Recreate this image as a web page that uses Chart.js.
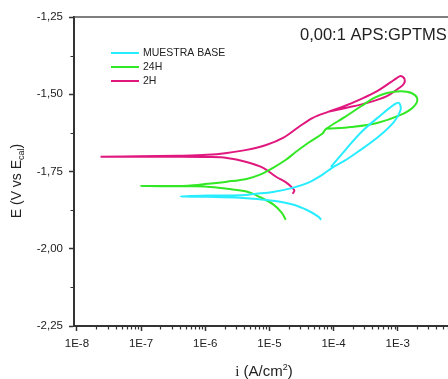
<!DOCTYPE html>
<html>
<head>
<meta charset="utf-8">
<script src="https://cdn.jsdelivr.net/npm/chart.js@4.4.1/dist/chart.umd.min.js"></script>
<style>
  html, body { margin: 0; padding: 0; background: #fff; overflow: hidden; }
  #wrap { width: 480px; height: 379px; }
</style>
</head>
<body>
<div id="wrap"><canvas id="tafel" width="480" height="379"></canvas></div>
<script>
// Polarization curves: i in A/cm2, E in V vs Ecal
const chartTitle = '0,00:1 APS:GPTMS';
const seriesLabels = ['MUESTRA BASE', '24H', '2H'];
const seriesColors = ['rgb(40, 236, 255)', 'rgb(50, 232, 36)', 'rgb(224, 24, 126)'];

const baseCurrent = [6.41e-5, 5.77e-5, 4.06e-5, 2.31e-5, 1.14e-5, 3.45e-6, 1.08e-6, 4.13e-7,
    1.08e-6, 3.45e-6, 6.28e-6, 1.14e-5, 2.31e-5, 4.06e-5, 6.65e-5, 9.47e-5, 1.49e-4, 2.36e-4,
    4.78e-4, 8.7e-4, 1.11e-3, 1.05e-3, 8.9e-4, 5.5e-4, 2.72e-4, 1.49e-4, 9.1e-5];
const basePotential = [-1.906, -1.896, -1.877, -1.857, -1.845, -1.835, -1.832, -1.831,
    -1.828, -1.827, -1.822, -1.816, -1.803, -1.786, -1.761, -1.738, -1.715, -1.687,
    -1.641, -1.590, -1.551, -1.528, -1.533, -1.567, -1.622, -1.683, -1.735];

const h24Current = [1.8e-5, 1.55e-5, 1.16e-5, 6.98e-6, 4.4e-6, 2.18e-6, 1.08e-6, 5.35e-7, 9.86e-8,
    5.35e-7, 1.08e-6, 2.18e-6, 4.4e-6, 6.98e-6, 1.14e-5, 1.81e-5, 2.57e-5, 4.06e-5, 6.65e-5, 7.66e-5,
    1.49e-4, 2.72e-4, 4.3e-4, 6.8e-4, 1.11e-3, 1.64e-3, 2.02e-3, 1.76e-3, 1.11e-3, 4.78e-4, 1.91e-4, 7.9e-5];
const h24Potential = [-1.906, -1.883, -1.857, -1.832, -1.815, -1.806, -1.799, -1.798, -1.797,
    -1.796, -1.790, -1.783, -1.774, -1.761, -1.738, -1.712, -1.687, -1.657, -1.628, -1.612,
    -1.574, -1.538, -1.512, -1.496, -1.490, -1.496, -1.515, -1.541, -1.567, -1.593, -1.606, -1.612];

const h2Current = [2.3e-5, 2.45e-5, 2.28e-5, 1.84e-5, 1.27e-5, 8.0e-6, 4.4e-6, 2.18e-6, 1.08e-6, 3.76e-7, 9.2e-8, 2.33e-8,
    9.2e-8, 3.76e-7, 1.08e-6, 2.18e-6, 4.4e-6, 8.9e-6, 1.63e-5, 2.86e-5, 4.68e-5, 8.2e-5, 1.49e-4, 2.72e-4,
    4.78e-4, 7.8e-4, 9.66e-4, 1.11e-3, 1.28e-3, 1.24e-3, 1.0e-3, 6.8e-4, 3.36e-4, 1.49e-4, 8.2e-5];
const h2Potential = [-1.822, -1.812, -1.803, -1.786, -1.767, -1.738, -1.719, -1.706, -1.703, -1.702, -1.702, -1.702,
    -1.701, -1.699, -1.696, -1.690, -1.680, -1.664, -1.641, -1.606, -1.577, -1.557, -1.538, -1.515,
    -1.490, -1.461, -1.448, -1.441, -1.451, -1.467, -1.483, -1.506, -1.528, -1.545, -1.557];

const xTicks = [1e-8, 1e-7, 1e-6, 1e-5, 1e-4, 1e-3, 1e-2];
const yTicks = [-2.25, -2.0, -1.75, -1.5, -1.25];
const yMinorTicks = [-2.125, -1.875, -1.625, -1.375];

const sans = '"Liberation Sans", Arial, sans-serif';
Chart.defaults.font.family = sans;

const toPoints = (cur, pot) => cur.map((c, k) => ({ x: c, y: pot[k] }));
const curves = [
    toPoints(baseCurrent, basePotential),
    toPoints(h24Current, h24Potential),
    toPoints(h2Current, h2Potential),
];

// little helper for text with a sub/superscript piece
const drawPieces = (ctx, pieces, cx, cy) => {
    let w = 0;
    pieces.forEach((p) => { ctx.font = p.font; w += ctx.measureText(p.text).width; });
    let px = cx - w / 2;
    pieces.forEach((p) => {
        ctx.font = p.font;
        ctx.fillText(p.text, px, cy + (p.dy || 0));
        px += ctx.measureText(p.text).width;
    });
};

const extras = {
    id: 'extras',
    afterDraw(chart) {
        const { ctx, chartArea: a, scales } = chart;
        const x = scales.x, y = scales.y;
        ctx.save();

        // top frame line
        ctx.strokeStyle = '#555';
        ctx.lineWidth = 1.5;
        ctx.beginPath();
        ctx.moveTo(a.left, a.top);
        ctx.lineTo(a.right + 1, a.top);
        ctx.stroke();

        // minor ticks
        ctx.strokeStyle = '#333';
        ctx.lineWidth = 1.2;
        ctx.beginPath();
        for (let d = -8; d <= -3; d++) {
            for (let m = 2; m <= 9; m++) {
                const px = Math.round(x.getPixelForValue(m * Math.pow(10, d))) + 0.5;
                ctx.moveTo(px, a.bottom);
                ctx.lineTo(px, a.bottom + 3.5);
            }
        }
        yMinorTicks.forEach((v) => {
            const py = Math.round(y.getPixelForValue(v)) + 0.5;
            ctx.moveTo(a.left - 3.5, py);
            ctx.lineTo(a.left, py);
        });
        ctx.stroke();

        // legend
        ctx.textBaseline = 'middle';
        ctx.textAlign = 'left';
        chart.data.datasets.forEach((ds, k) => {
            const ly = 53 + k * 14;
            ctx.strokeStyle = ds.borderColor;
            ctx.lineWidth = 2;
            ctx.beginPath();
            ctx.moveTo(111, ly);
            ctx.lineTo(139, ly);
            ctx.stroke();
            ctx.fillStyle = '#222';
            ctx.font = '10.5px ' + sans;
            ctx.fillText(ds.label, 143, ly + 0.5);
        });

        // title
        ctx.textBaseline = 'alphabetic';
        ctx.fillStyle = '#222';
        ctx.font = '16.5px ' + sans;
        ctx.fillText(chartTitle, 300, 40);

        // x axis title
        drawPieces(ctx, [
            { text: 'i', font: '15px "Liberation Serif", serif' },
            { text: ' (A/cm', font: '15px ' + sans },
            { text: '2', font: '9px ' + sans, dy: -6 },
            { text: ')', font: '15px ' + sans },
        ], 264, 376);

        // y axis title
        ctx.translate(21, 181);
        ctx.rotate(-Math.PI / 2);
        drawPieces(ctx, [
            { text: 'E (V vs E', font: '14px ' + sans },
            { text: 'cal', font: '9px ' + sans, dy: 3 },
            { text: ')', font: '14px ' + sans },
        ], 0, 0);

        ctx.restore();
    },
};

new Chart('tafel', {
    type: 'scatter',
    data: {
        datasets: curves.map((pts, k) => ({
            label: seriesLabels[k],
            data: pts,
            showLine: true,
            borderColor: seriesColors[k],
            backgroundColor: seriesColors[k],
            borderWidth: 2,
            pointRadius: 0,
            tension: 0.35,
        })),
    },
    options: {
        responsive: false,
        animation: false,
        layout: { padding: { top: 17, right: 11, left: 0, bottom: 0 } },
        plugins: { legend: { display: false }, tooltip: { enabled: false } },
        scales: {
            x: {
                type: 'logarithmic',
                min: Math.pow(10, -8.038),
                max: 1e-2,
                afterBuildTicks: (s) => { s.ticks = xTicks.map((v) => ({ value: v })); },
                afterFit: (s) => { s.height = 53; },
                ticks: {
                    autoSkip: false,
                    maxRotation: 0,
                    padding: 6,
                    color: '#222',
                    font: { size: 11.5 },
                    callback: (v) => '1E' + Math.round(Math.log10(v)),
                },
                grid: { drawOnChartArea: false, tickLength: 5, tickColor: '#333', tickWidth: 1.5 },
                border: { color: '#333', width: 2 },
            },
            y: {
                min: -2.25,
                max: -1.25,
                afterBuildTicks: (s) => { s.ticks = yTicks.map((v) => ({ value: v })); },
                afterFit: (s) => { s.width = 74; },
                ticks: {
                    padding: 6,
                    color: '#222',
                    font: { size: 11.5 },
                    callback: (v) => v.toFixed(2).replace('.', ','),
                },
                grid: { drawOnChartArea: false, tickLength: 5, tickColor: '#333', tickWidth: 1.5 },
                border: { color: '#333', width: 2 },
            },
        },
    },
    plugins: [extras],
});
</script>
</body>
</html>
